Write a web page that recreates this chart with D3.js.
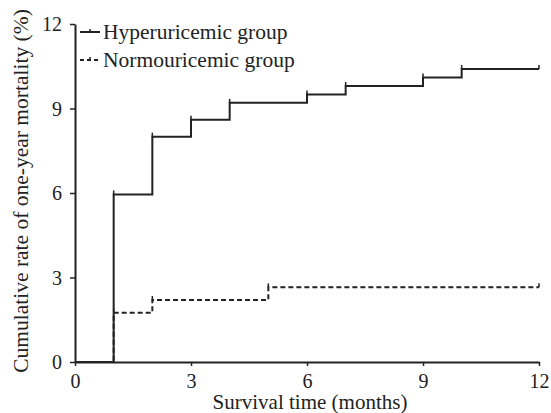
<!DOCTYPE html>
<html>
<head>
<meta charset="utf-8">
<script src="https://cdn.jsdelivr.net/npm/d3@7"></script>
<style>
  body { margin: 0; background: #fff; }
  text { font-family: "Liberation Serif", "Times New Roman", serif; fill: #222; }
</style>
</head>
<body>
<svg id="chart"></svg>
<script>
// Step data: months and cumulative mortality (%)
const hyperMonths = [0, 1, 2, 3, 4, 6, 7, 9, 10, 12];
const hyperRates  = [0, 5.95, 8.0, 8.6, 9.2, 9.5, 9.8, 10.1, 10.4, 10.4];
const normoMonths = [0, 1, 2, 5, 12];
const normoRates  = [0, 1.75, 2.2, 2.65, 2.65];
const xTicks = [0, 3, 6, 9, 12];
const yTicks = [0, 3, 6, 9, 12];
const seriesNames = ["Hyperuricemic group", "Normouricemic group"];

const margin = { top: 24, right: 12, bottom: 51, left: 75 };
const width = 551 - margin.left - margin.right;
const height = 413 - margin.top - margin.bottom;

const svg = d3.select("#chart")
    .attr("width", width + margin.left + margin.right)
    .attr("height", height + margin.top + margin.bottom)
    .append("g")
    .attr("transform", `translate(${margin.left},${margin.top})`);

const x = d3.scaleLinear().domain([0, 12]).range([0, 464]);
const y = d3.scaleLinear().domain([0, 12]).range([height, 0]);

const line = d3.line()
    .x(d => x(d[0]))
    .y(d => y(d[1]))
    .curve(d3.curveStepAfter);

const hyper = hyperMonths.map((m, i) => [m, hyperRates[i]]);
const normo = normoMonths.map((m, i) => [m, normoRates[i]]);

// axes
const xAxis = svg.append("g")
    .attr("transform", `translate(0,${height})`)
    .call(d3.axisBottom(x).tickValues(xTicks).tickSize(4).tickSizeOuter(0));
const yAxis = svg.append("g")
    .call(d3.axisLeft(y).tickValues(yTicks).tickSize(5).tickSizeOuter(0));

[xAxis, yAxis].forEach(a => {
  a.select(".domain").attr("stroke", "#222").attr("stroke-width", 2);
  a.selectAll(".tick line").attr("stroke", "#222").attr("stroke-width", 1.5);
  a.selectAll(".tick text").style("font-size", "20px")
    .style("font-family", "Liberation Serif, serif").attr("fill", "#222");
});
xAxis.selectAll(".tick text").attr("y", 26).attr("dy", 0);
yAxis.selectAll(".tick text").attr("x", -13).attr("dy", "0.34em");

// series
svg.append("path")
    .datum(normo)
    .attr("fill", "none")
    .attr("stroke", "#222")
    .attr("stroke-width", 2)
    .attr("stroke-dasharray", "5,3")
    .attr("d", line);

svg.append("path")
    .datum(hyper)
    .attr("fill", "none")
    .attr("stroke", "#222")
    .attr("stroke-width", 2)
    .attr("d", line);

// censor ticks at steps
const ticks = [...hyper.slice(1), ...normo.slice(1)];
svg.selectAll(".censor")
    .data(ticks)
    .enter()
    .append("line")
    .attr("x1", d => x(d[0]))
    .attr("x2", d => x(d[0]))
    .attr("y1", d => y(d[1]) - 4)
    .attr("y2", d => y(d[1]))
    .attr("stroke", "#222")
    .attr("stroke-width", 1.5);

// legend
const legend = svg.append("g").attr("transform", "translate(5,8)");
seriesNames.forEach((name, i) => {
  const g = legend.append("g").attr("transform", `translate(0,${i * 28})`);
  g.append("line")
      .attr("x1", 0).attr("x2", 20).attr("y1", 0).attr("y2", 0)
      .attr("stroke", "#222").attr("stroke-width", 2)
      .attr("stroke-dasharray", i === 1 ? "4,3" : null);
  g.append("line")
      .attr("x1", 10).attr("x2", 10).attr("y1", -3).attr("y2", 0)
      .attr("stroke", "#222").attr("stroke-width", 1.5);
  g.append("text")
      .attr("x", 23).attr("y", 7)
      .style("font-size", "21.5px")
      .text(name);
});

// axis labels
svg.append("text")
    .attr("x", 235)
    .attr("y", height + 47)
    .attr("text-anchor", "middle")
    .style("font-size", "21px")
    .text("Survival time (months)");

svg.append("text")
    .attr("text-anchor", "middle")
    .attr("transform", `translate(-47,${height / 2 - 2})rotate(-90)`)
    .style("font-size", "21.5px")
    .text("Cumulative rate of one-year mortality (%)");
</script>
</body>
</html>
